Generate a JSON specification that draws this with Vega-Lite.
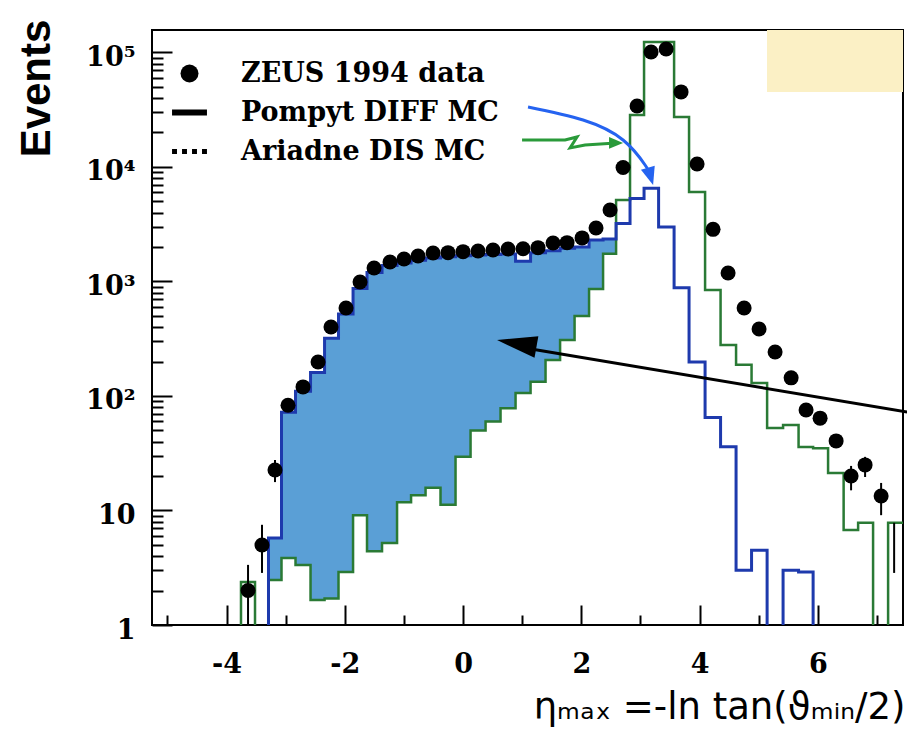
{
  "$schema": "https://vega.github.io/schema/vega-lite/v6.json",
  "width": 751,
  "height": 595,
  "autosize": {"type": "none"},
  "padding": {"left": 152, "top": 30, "right": 4, "bottom": 117},
  "background": "white",
  "config": {
    "view": {"stroke": "black", "strokeWidth": 2},
    "axis": {"grid": false, "domain": false, "tickColor": "black", "tickWidth": 2, "labelColor": "black", "titleColor": "black"}
  },
  "resolve": {"axis": {"x": "independent", "y": "independent"}},
  "datasets": {
    "hist": [
      {"x": -3.990, "blue": 0.5, "green": 0.5},
      {"x": -3.755, "blue": 0.5, "green": 2.38},
      {"x": -3.518, "blue": 0.5, "green": 0.5},
      {"x": -3.290, "blue": 5.75, "green": 2.47},
      {"x": -3.070, "blue": 72, "green": 3.85},
      {"x": -2.833, "blue": 110, "green": 3.34},
      {"x": -2.579, "blue": 160, "green": 1.65},
      {"x": -2.342, "blue": 320, "green": 1.7},
      {"x": -2.106, "blue": 520, "green": 2.9},
      {"x": -1.860, "blue": 870, "green": 9.1},
      {"x": -1.624, "blue": 1200, "green": 4.4},
      {"x": -1.370, "blue": 1380, "green": 5.2},
      {"x": -1.116, "blue": 1450, "green": 11.8},
      {"x": -0.879, "blue": 1530, "green": 13.6},
      {"x": -0.634, "blue": 1600, "green": 15.8},
      {"x": -0.381, "blue": 1640, "green": 11.2},
      {"x": -0.127, "blue": 1680, "green": 29.5},
      {"x": 0.127, "blue": 1700, "green": 50},
      {"x": 0.381, "blue": 1720, "green": 60},
      {"x": 0.634, "blue": 1740, "green": 78},
      {"x": 0.888, "blue": 1500, "green": 106},
      {"x": 1.142, "blue": 1780, "green": 133},
      {"x": 1.395, "blue": 1850, "green": 206},
      {"x": 1.641, "blue": 1950, "green": 308},
      {"x": 1.886, "blue": 2000, "green": 500},
      {"x": 2.131, "blue": 2300, "green": 860},
      {"x": 2.368, "blue": 2350, "green": 1750},
      {"x": 2.588, "blue": 3200, "green": 5150},
      {"x": 2.824, "blue": 5300, "green": 28400},
      {"x": 3.061, "blue": 6500, "green": 123600},
      {"x": 3.307, "blue": 2990, "green": 123600},
      {"x": 3.569, "blue": 880, "green": 27300},
      {"x": 3.822, "blue": 198, "green": 6050},
      {"x": 4.093, "blue": 65, "green": 843},
      {"x": 4.355, "blue": 36, "green": 279},
      {"x": 4.617, "blue": 3.0, "green": 187},
      {"x": 4.879, "blue": 4.5, "green": 130},
      {"x": 5.142, "blue": 0.5, "green": 52.6},
      {"x": 5.412, "blue": 3.0, "green": 55.7},
      {"x": 5.674, "blue": 2.9, "green": 35.9},
      {"x": 5.920, "blue": 0.5, "green": 35},
      {"x": 6.173, "blue": 0.5, "green": 21.3},
      {"x": 6.436, "blue": 0.5, "green": 6.76},
      {"x": 6.681, "blue": 0.5, "green": 7.8},
      {"x": 6.934, "blue": 0.5, "green": 0.5},
      {"x": 7.188, "blue": 0.5, "green": 7.8},
      {"x": 7.442, "blue": 0.5, "green": 7.8}
    ],
    "pts": [
      {"series": "ZEUS 1994 data", "x": -3.636, "y": 2.0, "lo": 1.0, "hi": 3.35},
      {"series": "ZEUS 1994 data", "x": -3.400, "y": 5.0, "lo": 2.85, "hi": 7.5},
      {"series": "ZEUS 1994 data", "x": -3.180, "y": 22.6, "lo": 17.7, "hi": 27.6},
      {"series": "ZEUS 1994 data", "x": -2.960, "y": 83},
      {"series": "ZEUS 1994 data", "x": -2.706, "y": 120},
      {"series": "ZEUS 1994 data", "x": -2.452, "y": 198},
      {"series": "ZEUS 1994 data", "x": -2.233, "y": 400},
      {"series": "ZEUS 1994 data", "x": -1.979, "y": 587},
      {"series": "ZEUS 1994 data", "x": -1.742, "y": 990},
      {"series": "ZEUS 1994 data", "x": -1.505, "y": 1312},
      {"series": "ZEUS 1994 data", "x": -1.235, "y": 1480},
      {"series": "ZEUS 1994 data", "x": -0.998, "y": 1573},
      {"series": "ZEUS 1994 data", "x": -0.761, "y": 1670},
      {"series": "ZEUS 1994 data", "x": -0.507, "y": 1774},
      {"series": "ZEUS 1994 data", "x": -0.254, "y": 1785},
      {"series": "ZEUS 1994 data", "x": 0.0, "y": 1820},
      {"series": "ZEUS 1994 data", "x": 0.254, "y": 1846},
      {"series": "ZEUS 1994 data", "x": 0.507, "y": 1884},
      {"series": "ZEUS 1994 data", "x": 0.761, "y": 1923},
      {"series": "ZEUS 1994 data", "x": 1.015, "y": 1930},
      {"series": "ZEUS 1994 data", "x": 1.268, "y": 1974},
      {"series": "ZEUS 1994 data", "x": 1.522, "y": 2168},
      {"series": "ZEUS 1994 data", "x": 1.759, "y": 2183},
      {"series": "ZEUS 1994 data", "x": 2.013, "y": 2400},
      {"series": "ZEUS 1994 data", "x": 2.249, "y": 2933},
      {"series": "ZEUS 1994 data", "x": 2.486, "y": 4210},
      {"series": "ZEUS 1994 data", "x": 2.706, "y": 9900},
      {"series": "ZEUS 1994 data", "x": 2.943, "y": 34100},
      {"series": "ZEUS 1994 data", "x": 3.180, "y": 101000},
      {"series": "ZEUS 1994 data", "x": 3.434, "y": 107000},
      {"series": "ZEUS 1994 data", "x": 3.687, "y": 45200},
      {"series": "ZEUS 1994 data", "x": 3.958, "y": 10600},
      {"series": "ZEUS 1994 data", "x": 4.228, "y": 2850},
      {"series": "ZEUS 1994 data", "x": 4.482, "y": 1186},
      {"series": "ZEUS 1994 data", "x": 4.753, "y": 587},
      {"series": "ZEUS 1994 data", "x": 5.006, "y": 385},
      {"series": "ZEUS 1994 data", "x": 5.277, "y": 242},
      {"series": "ZEUS 1994 data", "x": 5.548, "y": 144},
      {"series": "ZEUS 1994 data", "x": 5.801, "y": 75.5},
      {"series": "ZEUS 1994 data", "x": 6.038, "y": 64},
      {"series": "ZEUS 1994 data", "x": 6.309, "y": 40.5},
      {"series": "ZEUS 1994 data", "x": 6.562, "y": 20, "lo": 15, "hi": 24.5},
      {"series": "ZEUS 1994 data", "x": 6.799, "y": 25, "lo": 19.6, "hi": 29.4},
      {"series": "ZEUS 1994 data", "x": 7.070, "y": 13.4, "lo": 9.1, "hi": 17.4},
      {"series": "ZEUS 1994 data", "x": 7.29, "lo": 2.85, "hi": 7.8}
    ],
    "blueArrow": [
      {"i": 0, "x": 1.099, "y": 33400},
      {"i": 1, "x": 2.030, "y": 25700},
      {"i": 2, "x": 2.706, "y": 17200},
      {"i": 3, "x": 3.078, "y": 10400},
      {"i": 4, "x": 3.146, "y": 9040}
    ],
    "greenArrow": [
      {"i": 0, "x": 0.998, "y": 17200},
      {"i": 1, "x": 1.725, "y": 17200},
      {"i": 2, "x": 1.928, "y": 18280},
      {"i": 3, "x": 1.810, "y": 14660},
      {"i": 4, "x": 2.063, "y": 15560},
      {"i": 5, "x": 2.52, "y": 16100}
    ]
  },
  "layer": [
    {
      "data": {"values": [{}]},
      "mark": {"type": "rect", "color": "#fbf0c5"},
      "encoding": {
        "x": {"datum": 5.14, "type": "quantitative", "scale": {"domain": [-5.26, 7.44], "nice": false, "zero": false}, "axis": null},
        "x2": {"datum": 7.44},
        "y": {"datum": 45200, "type": "quantitative", "scale": {"type": "log", "domain": [1, 157000], "nice": false}, "axis": null},
        "y2": {"datum": 157000}
      }
    },
    {
      "data": {"name": "hist"},
      "transform": [{"filter": "datum.x > -3.3 && datum.x < 2.6"}],
      "mark": {"type": "area", "interpolate": "step-after", "color": "#5a9fd6", "opacity": 1, "clip": true},
      "encoding": {
        "x": {"field": "x", "type": "quantitative", "scale": {"domain": [-5.26, 7.44], "nice": false, "zero": false},
          "axis": {"values": [-4, -2, 0, 2, 4, 6], "orient": "bottom", "ticks": false,
            "labelExpr": "replace(datum.label, '−', '-')",
            "labelFont": "DejaVu Serif", "labelFontWeight": "bold", "labelFontSize": 27, "labelPadding": 26,
            "labelFlush": false, "labelOverlap": false,
            "title": "ηₘₐₓ =-ln tan(ϑₘᵢₙ/2)", "titleFont": "DejaVu Sans", "titleFontWeight": "normal", "titleFontSize": 37,
            "titleX": 753, "titleY": 93, "titleAlign": "right", "titleBaseline": "alphabetic"}},
        "y": {"field": "blue", "type": "quantitative", "scale": {"type": "log", "domain": [1, 157000], "nice": false},
          "axis": {"values": [1, 10, 100, 1000, 10000, 100000], "orient": "left", "ticks": false,
            "labelExpr": "datum.value == 1 ? '1\u2002' : datum.value == 10 ? '10\u2002' : datum.value == 100 ? '10²' : datum.value == 1000 ? '10³' : datum.value == 10000 ? '10⁴' : '10⁵'",
            "labelFont": "DejaVu Serif", "labelFontWeight": "bold", "labelFontSize": 27, "labelPadding": 17, "labelOffset": 5,
            "labelBaseline": "middle", "labelFlush": false, "labelOverlap": false,
            "title": "Events", "titleFont": "Liberation Sans", "titleFontWeight": "bold", "titleFontSize": 42,
            "titleAngle": 270, "titleX": -116, "titleY": 58, "titleAlign": "center", "titleBaseline": "middle"}},
        "y2": {"field": "green"}
      }
    },
    {
      "data": {"name": "hist"},
      "mark": {"type": "line", "interpolate": "step-after", "color": "#2a7a35", "strokeWidth": 2.5, "clip": true},
      "encoding": {
        "x": {"field": "x", "type": "quantitative", "scale": {"domain": [-5.26, 7.44], "nice": false, "zero": false},
          "axis": {"values": [-4, -2, 0, 2, 4, 6], "orient": "bottom", "labels": false, "tickSize": -20, "title": null}},
        "y": {"field": "green", "type": "quantitative", "scale": {"type": "log", "domain": [1, 157000], "nice": false},
          "axis": {"values": [1, 10, 100, 1000, 10000, 100000], "orient": "left", "labels": false, "tickSize": -20, "title": null}}
      }
    },
    {
      "data": {"name": "hist"},
      "transform": [{"filter": "datum.x > -3.6"}],
      "mark": {"type": "line", "interpolate": "step-after", "color": "#1e3aad", "strokeWidth": 3, "clip": true},
      "encoding": {
        "x": {"field": "x", "type": "quantitative", "scale": {"domain": [-5.26, 7.44], "nice": false, "zero": false},
          "axis": {"values": [-5, -3, -1, 1, 3, 5, 7], "orient": "bottom", "labels": false, "tickSize": -10, "title": null}},
        "y": {"field": "blue", "type": "quantitative", "scale": {"type": "log", "domain": [1, 157000], "nice": false},
          "axis": {"values": [2, 3, 4, 5, 6, 7, 8, 9, 20, 30, 40, 50, 60, 70, 80, 90, 200, 300, 400, 500, 600, 700, 800, 900, 2000, 3000, 4000, 5000, 6000, 7000, 8000, 9000, 20000, 30000, 40000, 50000, 60000, 70000, 80000, 90000],
            "orient": "left", "labels": false, "tickSize": -11, "title": null}}
      }
    },
    {
      "data": {"name": "pts"},
      "transform": [{"filter": "isValid(datum.lo)"}],
      "mark": {"type": "rule", "color": "black", "strokeWidth": 2, "clip": true},
      "encoding": {
        "x": {"field": "x", "type": "quantitative", "axis": null},
        "y": {"field": "lo", "type": "quantitative", "scale": {"type": "log", "domain": [1, 157000], "nice": false}, "axis": null},
        "y2": {"field": "hi"}
      }
    },
    {
      "data": {"name": "pts"},
      "transform": [{"filter": "isValid(datum.y)"}],
      "mark": {"type": "point", "filled": true, "color": "black", "opacity": 1, "size": 225},
      "encoding": {
        "x": {"field": "x", "type": "quantitative", "axis": null},
        "y": {"field": "y", "type": "quantitative", "scale": {"type": "log", "domain": [1, 157000], "nice": false}, "axis": null},
        "shape": {"field": "series", "type": "nominal",
          "scale": {"domain": ["ZEUS 1994 data", "Pompyt DIFF MC", "Ariadne DIS MC"],
            "range": ["circle", "M-1.94,-0.33H1.94V0.33H-1.94Z", "M-1.94,-0.28H-1.39V0.28H-1.94Z M-0.83,-0.28H-0.28V0.28H-0.83Z M0.28,-0.28H0.83V0.28H0.28Z M1.39,-0.28H1.94V0.28H1.39Z"]},
          "legend": {"orient": "none", "legendX": 24, "legendY": 30, "title": null, "padding": 0,
            "labelFont": "DejaVu Serif", "labelFontWeight": "bold", "labelFontSize": 27, "labelColor": "black", "labelLimit": 500,
            "symbolSize": 324, "symbolFillColor": "black", "symbolStrokeWidth": 0, "labelOffset": 38, "rowPadding": 11,
            "encode": {"symbols": {"update": {"size": {"value": 324}, "fill": {"value": "black"}, "strokeWidth": {"value": 0}, "opacity": {"value": 1}}}}}
        }
      }
    },
    {
      "data": {"values": [{}]},
      "mark": {"type": "rule", "color": "black", "strokeWidth": 3},
      "encoding": {
        "x": {"datum": 0.9, "type": "quantitative", "axis": null},
        "y": {"datum": 270, "type": "quantitative", "scale": {"type": "log", "domain": [1, 157000], "nice": false}, "axis": null},
        "x2": {"datum": 7.51},
        "y2": {"datum": 72.5}
      }
    },
    {
      "data": {"values": [{}]},
      "mark": {"type": "point", "filled": true, "color": "black", "opacity": 1, "shape": "M0,0L2,-0.55L2,0.55Z", "size": 1600, "angle": 10},
      "encoding": {
        "x": {"datum": 0.575, "type": "quantitative", "axis": null},
        "y": {"datum": 308, "type": "quantitative", "scale": {"type": "log", "domain": [1, 157000], "nice": false}, "axis": null}
      }
    },
    {
      "data": {"name": "blueArrow"},
      "mark": {"type": "line", "color": "#2563f0", "strokeWidth": 3, "interpolate": "natural"},
      "encoding": {
        "x": {"field": "x", "type": "quantitative", "axis": null},
        "y": {"field": "y", "type": "quantitative", "scale": {"type": "log", "domain": [1, 157000], "nice": false}, "axis": null},
        "order": {"field": "i"}
      }
    },
    {
      "data": {"values": [{}]},
      "mark": {"type": "point", "filled": true, "color": "#2563f0", "opacity": 1, "shape": "M0,0L2,-0.8L2,0.8Z", "size": 324, "angle": 253},
      "encoding": {
        "x": {"datum": 3.214, "type": "quantitative", "axis": null},
        "y": {"datum": 6960, "type": "quantitative", "scale": {"type": "log", "domain": [1, 157000], "nice": false}, "axis": null}
      }
    },
    {
      "data": {"name": "greenArrow"},
      "mark": {"type": "line", "color": "#2a9a3a", "strokeWidth": 3, "interpolate": "linear"},
      "encoding": {
        "x": {"field": "x", "type": "quantitative", "axis": null},
        "y": {"field": "y", "type": "quantitative", "scale": {"type": "log", "domain": [1, 157000], "nice": false}, "axis": null},
        "order": {"field": "i"}
      }
    },
    {
      "data": {"values": [{}]},
      "mark": {"type": "point", "filled": true, "color": "#2a9a3a", "opacity": 1, "shape": "M0,0L2,-0.85L2,0.85Z", "size": 196, "angle": 180},
      "encoding": {
        "x": {"datum": 2.706, "type": "quantitative", "axis": null},
        "y": {"datum": 16220, "type": "quantitative", "scale": {"type": "log", "domain": [1, 157000], "nice": false}, "axis": null}
      }
    }
  ]
}
